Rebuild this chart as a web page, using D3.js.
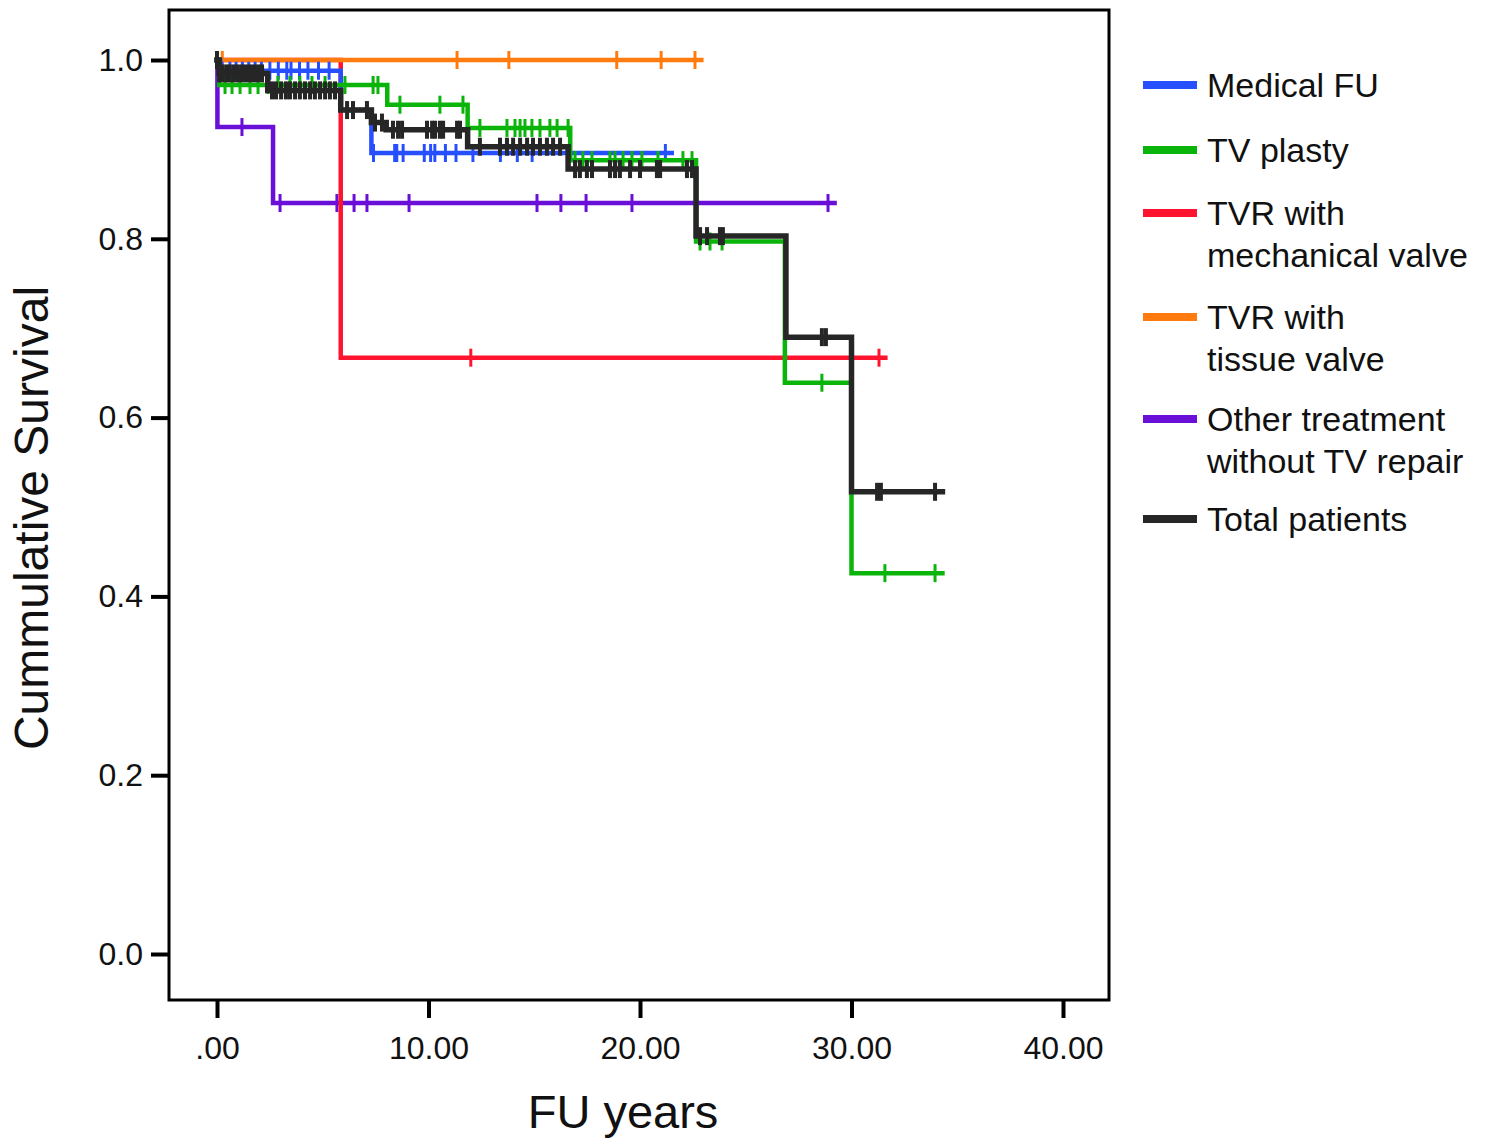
<!DOCTYPE html>
<html>
<head>
<meta charset="utf-8">
<script src="https://cdn.jsdelivr.net/npm/d3@7"></script>
<style>
  body { margin: 0; background: #fff; }
  text { font-family: "Liberation Sans", Arial, sans-serif; fill: #111; }
</style>
</head>
<body>
<svg id="chart" width="1494" height="1144"></svg>
<script>
// steps are [time, survival from that time on]
var medicalSteps = [[0,1],[0.15,0.988],[5.85,0.944],[7.3,0.896]];
var medicalEnd = 21.5;
var medicalCensor = [0,0.24,0.61,0.9,1.2,1.5,1.8,2.1,2.5,2.9,3.3,3.5,3.9,4.3,4.8,5.3,
  7.4,8.4,8.5,8.8,9.8,10.1,10.3,10.8,11.3,12.1,13.4,14.2,14.9,21.2];

var plastySteps = [[0,1],[0.1,0.972],[8.05,0.95],[11.85,0.924],[16.7,0.888],[22.65,0.797],[26.85,0.639],[30.0,0.426]];
var plastyEnd = 34.3;
var plastyCensor = [0.38,0.71,1.09,1.56,1.94,2.41,2.88,3.45,3.92,4.49,5.11,6.05,7.38,7.61,
  8.65,10.54,11.63,12.43,13.71,14.09,14.33,14.56,14.89,15.27,15.74,16.08,16.6,
  16.93,17.3,17.73,18.58,18.82,19.2,19.62,20.09,20.85,22.03,22.46,22.84,23.31,23.88,28.6,31.58,33.95];

var mechSteps = [[0,1],[5.85,0.667]];
var mechEnd = 31.6;
var mechCensor = [12.0,31.3];

var tissueSteps = [[0,1]];
var tissueEnd = 22.9;
var tissueCensor = [0.25,11.35,13.8,18.9,21.0,22.6];

var otherSteps = [[0,1],[0.02,0.925],[2.65,0.84]];
var otherEnd = 29.2;
var otherCensor = [1.18,2.98,5.67,6.48,7.09,9.08,15.13,16.26,17.45,19.62,28.89];

var totalSteps = [[0,1],[0.1,0.985],[2.4,0.966],[5.85,0.944],[7.3,0.93],[8.0,0.922],[11.85,0.903],
  [16.6,0.878],[22.65,0.803],[26.9,0.69],[30.0,0.517]];
var totalEnd = 34.3;
var totalCensor = [0,0.1,0.24,0.43,0.61,0.8,0.99,1.18,1.37,1.56,1.75,1.94,2.13,
  2.6,2.79,3.03,3.26,3.45,3.69,3.92,4.16,4.4,4.63,4.87,5.11,5.34,5.58,
  6.15,6.43,7.09,7.47,7.8,8.32,8.56,8.75,9.93,10.17,10.31,10.54,10.69,11.35,11.49,
  12.43,13.38,13.71,14.0,14.33,14.66,14.94,15.27,15.6,15.89,16.22,
  16.93,17.16,17.49,17.73,18.58,18.82,19.05,19.53,20.0,20.8,20.95,22.22,22.46,
  22.84,23.17,23.78,23.92,28.6,28.79,31.21,31.39,33.95];

var xTicks = [0,10,20,30,40];
var xTickLabels = ['.00','10.00','20.00','30.00','40.00'];
var yTicks = [0,0.2,0.4,0.6,0.8,1.0];

// drawing order, back to front
var series = [
  {name: ['Other treatment','without TV repair'], steps: otherSteps, end: otherEnd, censor: otherCensor, color: '#6a0fd8', lw: 4.5},
  {name: ['TVR with','mechanical valve'], steps: mechSteps, end: mechEnd, censor: mechCensor, color: '#ff1430', lw: 4.5},
  {name: ['TVR with','tissue valve'], steps: tissueSteps, end: tissueEnd, censor: tissueCensor, color: '#ff7b0f', lw: 4.5},
  {name: ['Medical FU'], steps: medicalSteps, end: medicalEnd, censor: medicalCensor, color: '#2650ff', lw: 4.5},
  {name: ['TV plasty'], steps: plastySteps, end: plastyEnd, censor: plastyCensor, color: '#0ab40a', lw: 4.5},
  {name: ['Total patients'], steps: totalSteps, end: totalEnd, censor: totalCensor, color: '#262626', lw: 5.5}
];
var legendOrder = [3,4,1,2,0,5];

var svg = d3.select('#chart');
var x = d3.scaleLinear().domain([0,40]).range([217,1063]);
var y = d3.scaleLinear().domain([0,1]).range([954,60]);

// frame
svg.append('rect').attr('x',169).attr('y',10).attr('width',940).attr('height',990)
  .attr('fill','none').attr('stroke','#000').attr('stroke-width',3);

var yAxis = d3.axisLeft(y).tickValues(yTicks).tickFormat(d3.format('.1f')).tickSize(18).tickPadding(8);
var gy = svg.append('g').attr('transform','translate(169,0)').call(yAxis);
gy.select('.domain').remove();
gy.selectAll('line').attr('stroke','#000').attr('stroke-width',4);
gy.selectAll('text').style('font-size','32px').attr('fill','#111');

var xAxis = d3.axisBottom(x).tickValues(xTicks).tickFormat(function(d,i){ return xTickLabels[i]; }).tickSize(18).tickPadding(18);
var gx = svg.append('g').attr('transform','translate(0,1000)').call(xAxis);
gx.select('.domain').remove();
gx.selectAll('line').attr('stroke','#000').attr('stroke-width',4);
gx.selectAll('text').style('font-size','32px').attr('fill','#111');

svg.append('text').attr('x',623).attr('y',1128).attr('text-anchor','middle')
  .style('font-size','47px').text('FU years');
svg.append('text').attr('transform','translate(48,518) rotate(-90)').attr('text-anchor','middle')
  .style('font-size','48px').text('Cummulative Survival');

var line = d3.line().curve(d3.curveStepAfter).x(function(d){ return x(d[0]); }).y(function(d){ return y(d[1]); });

function levelAt(steps, t) {
  var s = steps[0][1];
  for (var i = 0; i < steps.length; i++) { if (steps[i][0] <= t) s = steps[i][1]; }
  return s;
}

series.forEach(function(s) {
  var pts = s.steps.concat([[s.end, s.steps[s.steps.length-1][1]]]);
  var g = svg.append('g');
  g.append('path').attr('d', line(pts)).attr('fill','none')
    .attr('stroke', s.color).attr('stroke-width', s.lw).attr('stroke-linecap','square');
  g.selectAll('line.censor').data(s.censor).enter().append('line')
    .attr('class','censor')
    .attr('x1', function(d){ return x(d); }).attr('x2', function(d){ return x(d); })
    .attr('y1', function(d){ return y(levelAt(s.steps,d)) - 9; })
    .attr('y2', function(d){ return y(levelAt(s.steps,d)) + 9; })
    .attr('stroke', s.color).attr('stroke-width', s.lw - 1.5);
});

// legend
var legendY = [85,150,213,317,419,519];
legendOrder.forEach(function(idx, i) {
  var s = series[idx];
  var ly = legendY[i];
  svg.append('line').attr('x1',1143).attr('x2',1197).attr('y1',ly).attr('y2',ly)
    .attr('stroke', s.color).attr('stroke-width', 8);
  s.name.forEach(function(txt, j) {
    svg.append('text').attr('x',1207).attr('y', ly + 12 + j*42)
      .style('font-size','34px').text(txt);
  });
});
</script>
</body>
</html>
